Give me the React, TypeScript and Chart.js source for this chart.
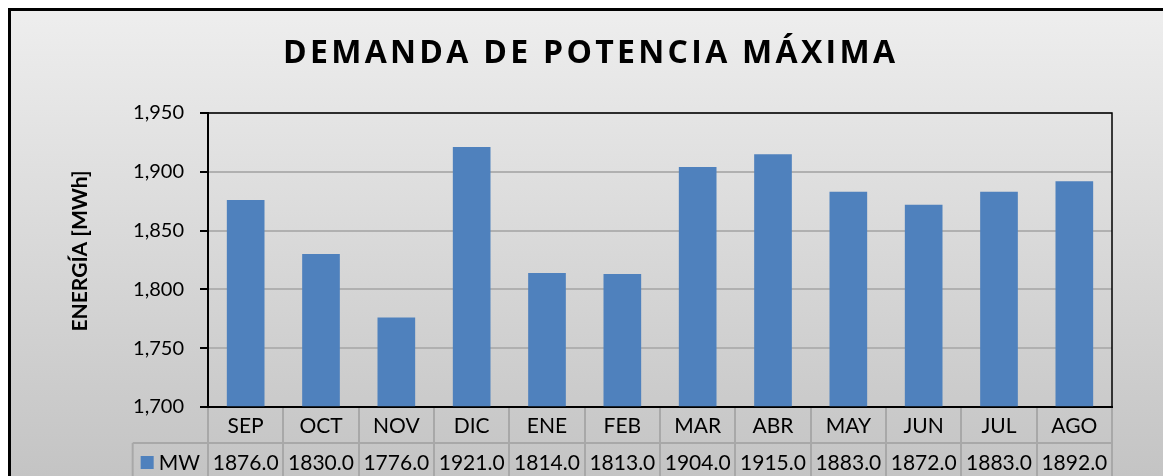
import React, { useEffect, useRef } from "react";
import { Chart, registerables } from "chart.js";

Chart.register(...registerables);

const months = ["SEP", "OCT", "NOV", "DIC", "ENE", "FEB", "MAR", "ABR", "MAY", "JUN", "JUL", "AGO"];
const mwValues = [1876, 1830, 1776, 1921, 1814, 1813, 1904, 1915, 1883, 1872, 1883, 1892];
const seriesName = "MW";
const chartTitle = "DEMANDA DE POTENCIA MÁXIMA";
const yTitle = "ENERGÍA [MWh]";
const yMin = 1700;
const yMax = 1950;
const yStep = 50;

const W = 1163;
const H = 476;
const BAR = "#4F81BD";
const TABLE_LINE = "#a8a8a8";
const FONT = "Lato, 'Noto Sans', sans-serif";

const decorPlugin = {
  id: "decor",
  beforeDraw(chart: any) {
    const ctx = chart.ctx;
    ctx.save();
    ctx.fillStyle = "#ffffff";
    ctx.fillRect(0, 0, W, H);
    const g = ctx.createLinearGradient(0, 8, 0, H);
    g.addColorStop(0, "#eeeeee");
    g.addColorStop(1, "#c4c4c4");
    ctx.fillStyle = g;
    ctx.fillRect(8, 8, W - 8, H - 8);
    ctx.strokeStyle = "#000000";
    ctx.lineWidth = 3;
    ctx.beginPath();
    ctx.moveTo(9.5, H + 5);
    ctx.lineTo(9.5, 9.5);
    ctx.lineTo(W + 5, 9.5);
    ctx.stroke();
    ctx.restore();
  },
  afterDraw(chart: any) {
    const ctx = chart.ctx;
    const area = chart.chartArea;
    const xs = chart.scales.x;
    ctx.save();
    // plot border
    ctx.strokeStyle = "#000000";
    ctx.lineWidth = 1.5;
    ctx.strokeRect(area.left, area.top, area.right - area.left, area.bottom - area.top);

    // title
    ctx.fillStyle = "#000000";
    ctx.font = "bold 32px 'Open Sans', sans-serif";
    ctx.textBaseline = "middle";
    ctx.textAlign = "left";
    const w0 = ctx.measureText(chartTitle).width;
    const targetW = 612;
    const ls = (targetW - w0) / (chartTitle.length - 1);
    (ctx as any).letterSpacing = ls + "px";
    ctx.fillText(chartTitle, 589 - targetW / 2, 54);
    (ctx as any).letterSpacing = "0px";

    // y title
    ctx.save();
    ctx.translate(80, 251);
    ctx.rotate(-Math.PI / 2);
    ctx.font = "bold 21px " + FONT;
    ctx.textAlign = "center";
    ctx.textBaseline = "middle";
    ctx.fillText(yTitle, 0, 0);
    ctx.restore();

    // data table
    const catW = (area.right - area.left) / months.length;
    const rowY = 443;
    const legendLeft = area.left - catW;
    ctx.strokeStyle = TABLE_LINE;
    ctx.lineWidth = 2;
    ctx.beginPath();
    ctx.moveTo(legendLeft, rowY);
    ctx.lineTo(area.right, rowY);
    ctx.moveTo(legendLeft, rowY);
    ctx.lineTo(legendLeft, H);
    ctx.stroke();

    ctx.fillStyle = "#000000";
    ctx.font = "21px " + FONT;
    ctx.textAlign = "center";
    ctx.textBaseline = "middle";
    const row1 = (area.bottom + rowY) / 2 + 1;
    const row2 = 463;
    months.forEach((m, i) => {
      const x = xs.getPixelForValue(i);
      ctx.fillText(m, x, row1);
      ctx.fillText(mwValues[i].toFixed(1), x, row2);
    });
    // legend cell
    ctx.fillStyle = BAR;
    ctx.fillRect(legendLeft + 8, row2 - 7, 13, 13);
    ctx.fillStyle = "#000000";
    ctx.textAlign = "left";
    ctx.fillText(seriesName, legendLeft + 26, row2);
    ctx.restore();
  },
};

export default function App() {
  const ref = useRef<HTMLCanvasElement | null>(null);
  useEffect(() => {
    document.body.style.margin = "0";
    document.body.style.overflow = "hidden";
    if (!ref.current) return;
    const chart = new Chart(ref.current, {
      type: "bar",
      data: {
        labels: months,
        datasets: [
          {
            label: seriesName,
            data: mwValues,
            backgroundColor: BAR,
            borderWidth: 0,
            barPercentage: 0.5,
            categoryPercentage: 1,
          },
        ],
      },
      options: {
        responsive: false,
        animation: false,
        devicePixelRatio: 1,
        layout: { padding: { left: 0, top: 113, right: W - 1112, bottom: 0 } },
        plugins: {
          legend: { display: false },
          title: { display: false },
          tooltip: { enabled: false },
        },
        scales: {
          x: {
            ticks: { display: false },
            grid: {
              display: true,
              drawOnChartArea: false,
              drawTicks: true,
              tickLength: 80,
              color: TABLE_LINE,
              tickColor: TABLE_LINE,
              lineWidth: 2,
              offset: true,
            },
            border: { display: true, color: "#000000", width: 2 },
            afterFit(scale: any) {
              scale.height = H - 407;
            },
          },
          y: {
            min: yMin,
            max: yMax,
            ticks: {
              stepSize: yStep,
              color: "#000000",
              font: { family: FONT, size: 20 },
              padding: 16,
              callback: (v: any) => Number(v).toLocaleString("en-US"),
            },
            grid: {
              color: "#b0b0b0",
              tickColor: "#000000",
              lineWidth: 2,
              tickLength: 8,
            },
            border: { display: true, color: "#000000", width: 2 },
            afterFit(scale: any) {
              scale.width = 208;
            },
          },
        },
      },
      plugins: [decorPlugin],
    });
    return () => chart.destroy();
  }, []);
  return (
    <div style={{ width: W, height: H }}>
      <canvas ref={ref} width={W} height={H} style={{ display: "block" }} />
    </div>
  );
}
